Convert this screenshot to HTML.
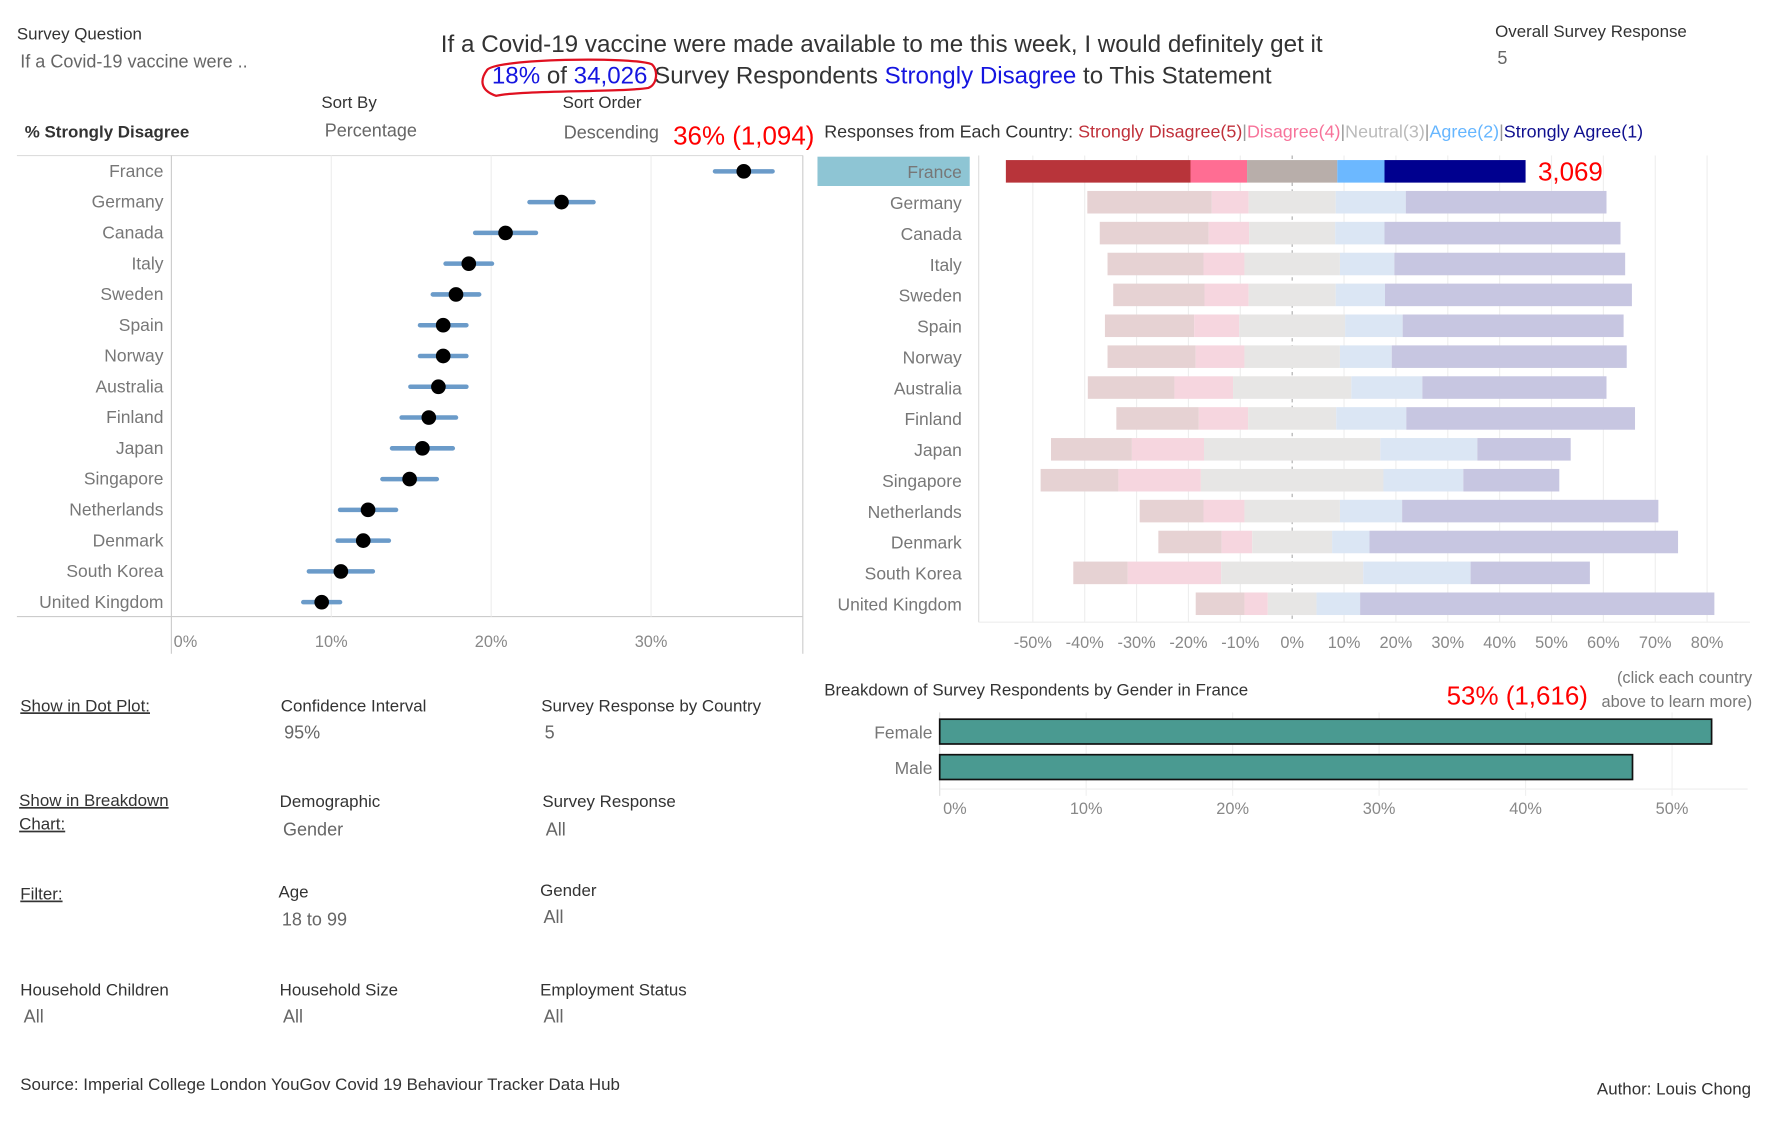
<!DOCTYPE html>
<html><head><meta charset="utf-8">
<style>
html,body{margin:0;padding:0;background:#fff;width:1768px;height:1125px;overflow:hidden}
svg{display:block}
text{font-family:"Liberation Sans",sans-serif}
.lab{fill:#333;font-size:15px}
.val{fill:#666;font-size:16px}
.tick{fill:#888;font-size:14.5px}
.cty{fill:#777;font-size:15.5px}
</style></head>
<body>
<svg id="root" width="1768" height="1125" viewBox="0 0 1568 998" preserveAspectRatio="none">
<g>
<text x="15" y="35" class="lab">Survey Question</text>
<text x="18" y="60" class="val">If a Covid-19 vaccine were ..</text>
<text x="782" y="46" text-anchor="middle" style="font-size:21.5px;fill:#333">If a Covid-19 vaccine were made available to me this week, I would definitely get it</text>
<text x="782" y="74" text-anchor="middle" style="font-size:21.4px;fill:#333"><tspan fill="#1515e0">18%</tspan> of <tspan fill="#1515e0">34,026</tspan> Survey Respondents <tspan fill="#1515e0">Strongly Disagree</tspan> to This Statement</text>
<path d="M432,62 C440,52 560,50 578,57 C584,62 583,75 575,78 C550,82 460,80 440,85 C425,80 426,70 432,62 Z" fill="none" stroke="#e01020" stroke-width="2"/>
<text x="1326" y="33" class="lab">Overall Survey Response</text>
<text x="1328" y="57" class="val">5</text>
<text x="285" y="96" class="lab">Sort By</text>
<text x="288" y="121" class="val">Percentage</text>
<text x="499" y="96" class="lab">Sort Order</text>
<text x="500" y="123" class="val">Descending</text>
<text x="597" y="128" style="font-size:23px;fill:#f00">36% (1,094)</text>
<text x="22" y="122" style="font-size:15px;fill:#333;font-weight:bold">% Strongly Disagree</text>
<text x="731" y="122" style="font-size:15.9px;fill:#333">Responses from Each Country: <tspan fill="#c0303a">Strongly Disagree(5)</tspan><tspan fill="#999">|</tspan><tspan fill="#f7739a">Disagree(4)</tspan><tspan fill="#999">|</tspan><tspan fill="#bbb">Neutral(3)</tspan><tspan fill="#999">|</tspan><tspan fill="#66b6ff">Agree(2)</tspan><tspan fill="#999">|</tspan><tspan fill="#10108f">Strongly Agree(1)</tspan></text>
</g>
<g id="dot"></g>
<g id="bars"></g>
<g id="gender"></g>
<g>
<text x="18" y="631" class="lab" text-decoration="underline">Show in Dot Plot:</text>
<text x="249" y="631" class="lab">Confidence Interval</text>
<text x="252" y="655" class="val">95%</text>
<text x="480" y="631" class="lab">Survey Response by Country</text>
<text x="483" y="655" class="val">5</text>
<text x="17" y="715" class="lab" text-decoration="underline">Show in Breakdown</text>
<text x="17" y="736" class="lab" text-decoration="underline">Chart:</text>
<text x="248" y="716" class="lab">Demographic</text>
<text x="251" y="741" class="val">Gender</text>
<text x="481" y="716" class="lab">Survey Response</text>
<text x="484" y="741" class="val">All</text>
<text x="18" y="798" class="lab" text-decoration="underline">Filter:</text>
<text x="247" y="796" class="lab">Age</text>
<text x="250" y="821" class="val">18 to 99</text>
<text x="479" y="795" class="lab">Gender</text>
<text x="482" y="819" class="val">All</text>
<text x="18" y="883" class="lab">Household Children</text>
<text x="21" y="907" class="val">All</text>
<text x="248" y="883" class="lab">Household Size</text>
<text x="251" y="907" class="val">All</text>
<text x="479" y="883" class="lab">Employment Status</text>
<text x="482" y="907" class="val">All</text>
<text x="18" y="967" class="lab">Source: Imperial College London YouGov Covid 19 Behaviour Tracker Data Hub</text>
<text x="1553" y="971" class="lab" text-anchor="end">Author: Louis Chong</text>
</g>
</svg>
<script>
const countries = ["France","Germany","Canada","Italy","Sweden","Spain","Norway","Australia","Finland","Japan","Singapore","Netherlands","Denmark","South Korea","United Kingdom"];
const dotValues = [35.8,24.4,20.9,18.6,17.8,17.0,17.0,16.7,16.1,15.7,14.9,12.3,12.0,10.6,9.4];
const ciHalf = [1.8,2.0,1.9,1.45,1.45,1.45,1.45,1.75,1.7,1.9,1.7,1.75,1.6,2.0,1.15];
const dotTicks = [0,10,20,30];
const sdVals = [35.6,24.0,21.0,18.5,17.6,17.2,17.0,16.7,15.9,15.6,15.0,12.3,12.2,10.5,9.4];
const dVals  = [10.9,7.1,7.8,7.9,8.5,8.7,9.4,11.3,9.5,13.9,15.9,7.9,5.9,18.0,4.5];
const nVals  = [17.4,16.8,16.6,18.4,16.8,20.4,18.4,22.8,17.0,34.0,35.2,18.4,15.4,27.4,9.4];
const aVals  = [9.1,13.5,9.5,10.5,9.5,11.1,10.0,13.7,13.5,18.7,15.4,12.0,7.2,20.7,8.4];
const saVals = [27.2,38.7,45.5,44.5,47.6,42.6,45.3,35.5,44.1,18.0,18.5,49.4,59.5,23.0,68.3];
const barTicks = [-50,-40,-30,-20,-10,0,10,20,30,40,50,60,70,80];
const genders = ["Female","Male"];
const genderVals = [52.7,47.3];
const genderTicks = [0,10,20,30,40,50];

const NS="http://www.w3.org/2000/svg";
function mk(parent,tag,attrs){const e=document.createElementNS(NS,tag);for(const k in attrs)e.setAttribute(k,attrs[k]);parent.appendChild(e);return e;}

// Dot plot
const dot=document.getElementById('dot');
const dx=v=>152+v*14.18;
const rowY=i=>152+i*27.3;
mk(dot,'line',{x1:15,y1:138,x2:712,y2:138,stroke:'#ddd'});
mk(dot,'line',{x1:15,y1:547,x2:712,y2:547,stroke:'#ccc'});
mk(dot,'line',{x1:712,y1:138,x2:712,y2:580,stroke:'#ccc'});
dotTicks.forEach(t=>{
  const g=mk(dot,'line',{x1:dx(t),y1:138,x2:dx(t),y2:t===0?580:547,stroke:t===0?'#ccc':'#eee'});
  
  
  const tx=mk(dot,'text',{x:t===0?dx(t)+2:dx(t),y:574,class:'tick','text-anchor':t===0?'start':'middle'});tx.textContent=t+'%';
  
  
});
countries.forEach((c,i)=>{
  const y=rowY(i);
  const l=mk(dot,'text',{x:145,y:y+5,class:'cty','text-anchor':'end'});l.textContent=c;
  
  
  const ci=mk(dot,'line',{x1:dx(dotValues[i]-ciHalf[i]),x2:dx(dotValues[i]+ciHalf[i]),y1:y,y2:y,stroke:'#6b9bc9','stroke-width':4,'stroke-linecap':'round'});
  
  
  const p=mk(dot,'circle',{cx:dx(dotValues[i]),cy:y,r:6.5,fill:'#000'});
  
  
});

// Diverging bars
const bars=document.getElementById('bars');
const bx=v=>1146+v*4.6;
const bY=i=>152+i*27.4;
mk(bars,'line',{x1:868,y1:138,x2:868,y2:552,stroke:'#ddd'});
mk(bars,'line',{x1:868,y1:552,x2:1552,y2:552,stroke:'#eee'});
barTicks.forEach(t=>{
  const g=mk(bars,'line',{x1:bx(t),y1:138,x2:bx(t),y2:552,stroke:t===0?'#aaa':'#eee','stroke-dasharray':t===0?'3,3':'none'});
  
  
  const tx=mk(bars,'text',{x:bx(t),y:575,class:'tick','text-anchor':'middle'});tx.textContent=t+'%';
  
  
});
const fullCol=['#b8343a','#ff6d93','#b8aeaa','#6cb8ff','#00008f'];
const fadeCol=['#e6d2d3','#f6d6df','#e7e6e5','#dbe6f4','#c7c6e1'];
const segNames=['strongly-disagree','disagree','neutral','agree','strongly-agree'];
countries.forEach((c,i)=>{
  const y=bY(i);
  if(i===0){const h=mk(bars,'rect',{x:725,y:y-13,width:135,height:26,fill:'#8ec5d4'});
    
    }
  const l=mk(bars,'text',{x:853,y:y+6,class:'cty','text-anchor':'end',fill:i===0?'#555':'#777'});l.textContent=c;
  
  
  const vals=[sdVals[i],dVals[i],nVals[i],aVals[i],saVals[i]];
  let start=-(vals[0]+vals[1]+vals[2]/2);
  vals.forEach((v,k)=>{
    const r=mk(bars,'rect',{x:bx(start),y:y-10,width:v*4.6,height:20,fill:i===0?fullCol[k]:fadeCol[k]});
    
    
    start+=v;
  });
  if(i===0){const t=mk(bars,'text',{x:bx(start)+11,y:y+8,style:'font-size:23px;fill:#f00'});t.textContent='3,069';
    
    }
});

// Gender chart
const gd=document.getElementById('gender');
const gx=v=>833.4+v*12.99;
const t1=mk(gd,'text',{x:731,y:617,class:'lab'});t1.textContent='Breakdown of Survey Respondents by Gender in France';


const t2=mk(gd,'text',{x:1283,y:625,style:'font-size:23px;fill:#f00'});t2.textContent='53% (1,616)';


const t3=mk(gd,'text',{x:1554,y:606,'text-anchor':'end',style:'font-size:14.5px;fill:#777'});t3.textContent='(click each country';


const t4=mk(gd,'text',{x:1554,y:627,'text-anchor':'end',style:'font-size:14.5px;fill:#777'});t4.textContent='above to learn more)';


mk(gd,'line',{x1:834,y1:700,x2:1550,y2:700,stroke:'#eee'});
genderTicks.forEach(t=>{
  const g=mk(gd,'line',{x1:gx(t),y1:632,x2:gx(t),y2:706,stroke:t===0?'#ddd':'#f0f0f0'});
  
  
  const tx=mk(gd,'text',{x:t===0?gx(t)+3:gx(t),y:722,class:'tick','text-anchor':t===0?'start':'middle'});tx.textContent=t+'%';
  
  
});
genders.forEach((g,i)=>{
  const y=649+i*31.5;
  const l=mk(gd,'text',{x:827,y:y+6,class:'cty','text-anchor':'end'});l.textContent=g;
  
  
  const r=mk(gd,'rect',{x:gx(0),y:y-11,width:genderVals[i]*12.99,height:22,fill:'#4a9a91',stroke:'#111','stroke-width':1.5});
  
  
});
</script>
</body></html>
